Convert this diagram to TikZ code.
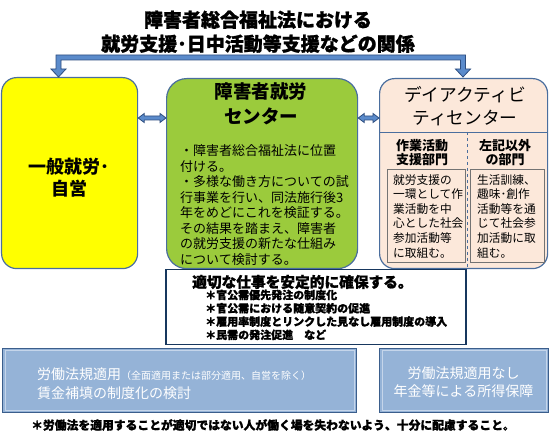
\documentclass[tikz,border=0pt]{standalone}
\usepackage{fontspec}
\setmainfont{Noto Sans CJK JP}
\newfontfamily\heavyfont{Noto Sans CJK JP}[BoldFeatures={FakeBold=1.3}]
\usetikzlibrary{calc}
\definecolor{yelfill}{HTML}{FFFF00}
\definecolor{grnfill}{HTML}{9BCB3C}
\definecolor{pnkfill}{HTML}{FCE8DA}
\definecolor{boxline}{HTML}{4A6E9E}
\definecolor{arrfill}{HTML}{5B8BCB}
\definecolor{arrline}{HTML}{2E4E80}
\definecolor{btmfill}{HTML}{95B3D7}
\definecolor{btmline}{HTML}{3B5E8C}
\definecolor{btmframe}{HTML}{C5D5EA}
\definecolor{navyline}{HTML}{17375E}
\newcommand\setfs[2]{\fontsize{#1pt}{#2pt}\selectfont}
\begin{document}
\begin{tikzpicture}[x=1pt,y=-1pt,
  panel/.style={draw=boxline, line width=1.2pt, anchor=north west, inner sep=0pt},
  txt/.style={inner sep=0pt, text=black},
  blockarrow/.style={fill=arrfill, draw=arrline, line width=0.8pt, line join=miter},
  lowbox/.style={fill=btmfill, draw=btmline, line width=1pt, anchor=north west, inner sep=0pt},
  frameline/.style={draw=btmframe, line width=1pt},
]
\useasboundingbox (0,0) rectangle (549,438);
\fill[white] (0,0) rectangle (549,438);

% title
\node[txt, font=\heavyfont\setfs{19}{24}\bfseries, align=center, anchor=north] (title) at (258,10.5)
  {障害者総合福祉法における\\就労支援･日中活動等支援などの関係};

% main panels
\node[panel, fill=yelfill, rounded corners=15pt, minimum width=136pt, minimum height=191pt] (yel) at (1,77) {};
\node[panel, fill=grnfill, rounded corners=20pt, minimum width=191pt, minimum height=190pt] (grn) at (166,78) {};
\node[panel, fill=pnkfill, rounded corners=15pt, minimum width=168pt, minimum height=190pt] (pnk) at (379,78) {};

% bracket arrow from title to left and right panels
\coordinate (lt) at (58.5,77);
\coordinate (rt) at (463,77);
\draw[blockarrow] (lt) -- (66,69) -- (61,69) -- (61,60) -- (460.5,60) -- (460.5,69) -- (455.5,69)
  -- (rt) -- (470.5,69) -- (465.5,69) -- (465.5,55) -- (56,55) -- (56,69) -- (51,69) -- cycle;

% double arrows between panels
\coordinate (ay) at (0,118);
\draw[blockarrow] let \p1=(yel.east |- ay), \p2=(grn.west |- ay) in
  (\x1,\y1) -- ({\x1+6pt},{\y1+4.5pt}) -- ({\x1+6pt},{\y1+2pt}) -- ({\x2-6pt},{\y1+2pt})
  -- ({\x2-6pt},{\y1+4.5pt}) -- (\x2,\y1) -- ({\x2-6pt},{\y1-4.5pt}) -- ({\x2-6pt},{\y1-2pt})
  -- ({\x1+6pt},{\y1-2pt}) -- ({\x1+6pt},{\y1-4.5pt}) -- cycle;
\draw[blockarrow] let \p1=(grn.east |- ay), \p2=(pnk.west |- ay) in
  (\x1,\y1) -- ({\x1+6pt},{\y1+4.5pt}) -- ({\x1+6pt},{\y1+2pt}) -- ({\x2-6pt},{\y1+2pt})
  -- ({\x2-6pt},{\y1+4.5pt}) -- (\x2,\y1) -- ({\x2-6pt},{\y1-4.5pt}) -- ({\x2-6pt},{\y1-2pt})
  -- ({\x1+6pt},{\y1-2pt}) -- ({\x1+6pt},{\y1-4.5pt}) -- cycle;

% yellow panel text
\node[txt, font=\setfs{18}{22}\bfseries, align=center, anchor=north] (yeltxt) at (69,158) {一般就労･\\自営};

% green panel text
\node[txt, font=\setfs{18.5}{25}\bfseries, align=center, anchor=north] (grnttl) at (261,82.75) {障害者就労\\センター};
\node[txt, font=\setfs{13}{15.5}, align=left, anchor=north west] (grnbody) at (180,144.5)
  {・障害者総合福祉法に位置\\付ける。\\・多様な働き方についての試\\行事業を行い、同法施行後3\\年をめどにこれを検証する。\\その結果を踏まえ、障害者\\の就労支援の新たな仕組み\\について検討する。};

% pink panel
\node[txt, font=\setfs{17.7}{23}, align=center, anchor=north] (pnkttl) at (465,86.15) {デイアクティビ\\ティセンター};
\coordinate (sy) at (0,132);
\coordinate (dx) at (467,0);
\draw[draw=boxline, line width=0.8pt] (pnk.west |- sy) -- (pnk.east |- sy);
\draw[draw=boxline, line width=0.8pt, dashed] (dx |- sy) -- (dx |- pnk.south);
\node[txt, font=\setfs{13}{13.5}\bfseries, align=center, anchor=north] (sub1) at (422,139.5) {作業活動\\支援部門};
\node[txt, font=\setfs{13}{13.5}\bfseries, align=center, anchor=north] (sub2) at (505,139.5) {左記以外\\の部門};
\node[draw=black!55, line width=0.6pt, anchor=north west, minimum width=78pt, minimum height=93pt, inner sep=0pt] (in1) at (387,169) {};
\node[draw=black!55, line width=0.6pt, anchor=north west, minimum width=74pt, minimum height=93pt, inner sep=0pt] (in2) at (470,169) {};
\node[txt, font=\setfs{11.7}{14.6}, align=left, anchor=north west] (in1txt) at (393,174.15)
  {就労支援の\\一環として作\\業活動を中\\心とした社会\\参加活動等\\に取組む。};
\node[txt, font=\setfs{11.7}{14.6}, align=left, anchor=north west] (in2txt) at (477,174.15)
  {生活訓練、\\趣味･創作\\活動等を通\\じて社会参\\加活動に取\\組む。};

% white box
\node[draw=navyline, line width=1.5pt, fill=white, anchor=north west, minimum width=300pt, minimum height=75pt, inner sep=0pt] (wht) at (165,269) {};
\node[txt, font=\heavyfont\setfs{14.7}{16}\bfseries, anchor=west] (whtttl) at (192,282) {適切な仕事を安定的に確保する。};
\node[txt, font=\heavyfont\setfs{11}{13.3}\bfseries, align=left, anchor=north west] (whtlist) at (205,289.5)
  {＊官公需優先発注の制度化\\＊官公需における随意契約の促進\\＊雇用率制度とリンクした見なし雇用制度の導入\\＊民需の発注促進　など};

% bottom boxes
\node[lowbox, minimum width=354pt, minimum height=64pt] (bl) at (2,348) {};
\draw[frameline] ($(bl.north west)+(3,3)$) rectangle ($(bl.south east)+(-3,-3)$);
\node[txt, text=white, anchor=west, font=\setfs{14}{16}] (bl1) at (37,374) {労働法規適用{\setfs{10}{12}（全面適用または部分適用、自営を除く）}};
\node[txt, text=white, anchor=west, font=\setfs{14}{16}] (bl2) at (37,393) {賃金補填の制度化の検討};

\node[lowbox, minimum width=169pt, minimum height=64pt] (br) at (379,348) {};
\draw[frameline] ($(br.north west)+(3,3)$) rectangle ($(br.south east)+(-3,-3)$);
\node[txt, text=white, font=\setfs{14}{16}] (br1) at (463.5,373) {労働法規適用なし};
\node[txt, text=white, font=\setfs{14}{16}] (br2) at (463.5,391) {年金等による所得保障};

% note
\node[txt, font=\heavyfont\setfs{11.8}{14}\bfseries] (note) at (273,425) {＊労働法を適用することが適切ではない人が働く場を失わないよう、十分に配慮すること。};
\end{tikzpicture}
\end{document}
